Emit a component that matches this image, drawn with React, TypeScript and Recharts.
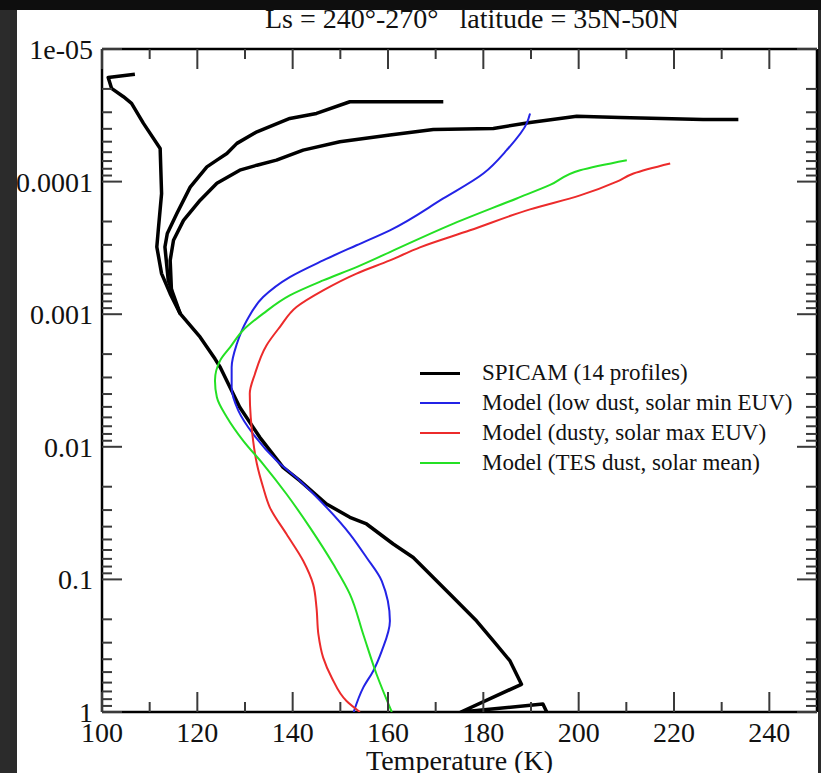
import React from 'react'
import { ScatterChart, Scatter, XAxis, YAxis } from 'recharts'

// profiles as [temperature (K), pressure]
const spicamMain = [
  [106.9, 1.55e-5], [101.3, 1.64e-5], [102.0, 1.98e-5], [104.5, 2.29e-5], [106.2, 2.57e-5],
  [108.7, 3.64e-5], [112.2, 5.62e-5], [112.5, 1.23e-4], [111.8, 2.33e-4], [111.5, 3.11e-4],
  [112.5, 4.94e-4], [114.3, 7.0e-4], [116.4, 9.9e-4], [120.6, 1.49e-3], [123.7, 2.17e-3],
  [124.8, 2.51e-3], [128.9, 5.04e-3], [133.1, 8.48e-3], [138.0, 1.43e-2], [141.5, 1.8e-2],
  [147.1, 2.7e-2], [152.0, 3.4e-2], [155.5, 3.82e-2], [161.1, 5.41e-2], [165.3, 6.84e-2],
  [169.5, 9.68e-2], [173.7, 0.137], [178.6, 0.206], [182.1, 0.291], [185.6, 0.412],
  [188.0, 0.618], [175.3, 1.0], [192.5, 0.87], [193.3, 1.0],
]
const spicamMid = [
  [116.4, 9.9e-4], [113.9, 5.56e-4], [113.2, 3.11e-4], [113.7, 2.46e-4], [115.7, 1.74e-4],
  [118.5, 1.1e-4], [122.0, 7.74e-5], [124.1, 6.89e-5], [126.2, 6.14e-5], [128.3, 5.15e-5],
  [132.5, 4.21e-5], [139.4, 3.34e-5], [145.0, 3.06e-5], [152.0, 2.5e-5], [171.6, 2.5e-5],
]
const spicamWarm = [
  [116.4, 9.9e-4], [114.6, 7.0e-4], [114.3, 3.93e-4], [115.0, 2.77e-4], [117.1, 1.96e-4],
  [120.6, 1.38e-4], [124.1, 1.03e-4], [128.9, 8.2e-5], [132.5, 7.52e-5], [136.6, 6.89e-5],
  [142.2, 5.79e-5], [149.9, 5.01e-5], [160.4, 4.46e-5], [169.5, 4.04e-5], [182.1, 3.97e-5],
  [189.8, 3.58e-5], [199.6, 3.21e-5], [208.7, 3.28e-5], [226.1, 3.4e-5], [233.5, 3.4e-5],
]
const modelLowDust = [
  [189.8, 3.06e-5], [189.1, 3.64e-5], [184.9, 5.79e-5], [180.0, 8.69e-5], [171.6, 1.34e-4],
  [160.4, 2.33e-4], [153.4, 3.02e-4], [146.4, 3.93e-4], [139.4, 5.25e-4], [133.8, 7.43e-4],
  [130.4, 1.11e-3], [128.3, 1.67e-3], [127.2, 2.51e-3], [127.2, 3.56e-3], [128.6, 5.33e-3],
  [131.7, 8.0e-3], [136.6, 1.27e-2], [141.5, 1.8e-2], [147.1, 2.86e-2], [152.0, 4.55e-2],
  [155.5, 6.84e-2], [158.7, 0.103], [160.4, 0.206], [158.7, 0.346], [156.9, 0.49],
  [154.8, 0.655], [152.8, 1.0],
]
const modelDusty = [
  [219.2, 7.3e-5], [211.5, 8.69e-5], [208.0, 1.0e-4], [200.3, 1.27e-4], [189.8, 1.62e-4],
  [177.2, 2.33e-4], [166.7, 3.13e-4], [160.4, 3.93e-4], [153.4, 4.94e-4], [146.4, 6.61e-4],
  [140.8, 8.83e-4], [137.3, 1.25e-3], [134.5, 1.72e-3], [132.1, 2.81e-3], [131.0, 3.98e-3],
  [131.2, 5.98e-3], [131.7, 8.97e-3], [132.5, 1.35e-2], [133.8, 2.02e-2], [135.2, 2.86e-2],
  [138.7, 4.55e-2], [142.2, 7.24e-2], [144.3, 0.109], [145.0, 0.163], [145.4, 0.26],
  [146.4, 0.389], [148.2, 0.551], [151.3, 0.826], [154.1, 1.0],
]
const modelTes = [
  [210.1, 6.89e-5], [200.3, 8.2e-5], [194.0, 1.06e-4], [187.0, 1.34e-4], [173.0, 2.13e-4],
  [160.4, 3.4e-4], [153.4, 4.41e-4], [146.4, 5.56e-4], [139.4, 7.21e-4], [133.8, 9.9e-4],
  [129.6, 1.32e-3], [126.9, 1.77e-3], [124.8, 2.23e-3], [123.7, 3.16e-3], [124.1, 4.23e-3],
  [126.2, 5.98e-3], [129.6, 8.97e-3], [133.8, 1.35e-2], [138.7, 2.27e-2], [143.6, 4.05e-2],
  [148.5, 7.66e-2], [152.0, 0.129], [154.8, 0.259], [157.6, 0.519], [160.8, 1.0],
]

const xTicks = [100, 110, 120, 130, 140, 150, 160, 170, 180, 190, 200, 210, 220, 230, 240]
const xLabelled = [100, 120, 140, 160, 180, 200, 220, 240]
const decades = [1e-5, 1e-4, 1e-3, 1e-2, 1e-1, 1]
const decadeLabels = ['1e-05', '0.0001', '0.001', '0.01', '0.1', '1']
const minorSteps = [2, 3, 4, 5, 6, 7, 8, 9]
const yTicks = decades.flatMap((d, i) => (i < decades.length - 1 ? [d, ...minorSteps.map(m => d * m)] : [d]))

const legendItems = [
  { name: 'SPICAM (14 profiles)', color: '#000', width: 3.5 },
  { name: 'Model (low dust, solar min EUV)', color: '#2323e6', width: 2 },
  { name: 'Model (dusty, solar max EUV)', color: '#ec2b2b', width: 2 },
  { name: 'Model (TES dust, solar mean)', color: '#24e024', width: 2 },
]

// observed profiles are jagged, model curves are smooth in pressure
const series = [
  { rows: spicamMain, curve: 'linear', ...legendItems[0] },
  { rows: spicamMid, curve: 'linear', ...legendItems[0] },
  { rows: spicamWarm, curve: 'linear', ...legendItems[0] },
  { rows: modelLowDust, curve: 'monotoneY', ...legendItems[1] },
  { rows: modelDusty, curve: 'monotoneY', ...legendItems[2] },
  { rows: modelTes, curve: 'monotoneY', ...legendItems[3] },
]

const toPoints = (rows: number[][]) => rows.map(([t, p]) => ({ t, p }))

const font = '"Liberation Serif", "Times New Roman", serif'
const tickColor = '#3a3a3a'

const decadeIndex = (v: number) => decades.findIndex(d => Math.abs(v / d - 1) < 1e-6)

const LeftTick = (props: any) => {
  const { x, y, payload } = props
  const i = decadeIndex(payload.value)
  const ax = x + 9
  return (
    <g>
      <line x1={ax} x2={ax + (i >= 0 ? 20 : 10)} y1={y} y2={y} stroke={tickColor} strokeWidth={2} />
      {i >= 0 && (
        <text x={x} y={y + 10} textAnchor="end" fontFamily={font} fontSize={28} fill="#111">
          {decadeLabels[i]}
        </text>
      )}
    </g>
  )
}

const RightTick = (props: any) => {
  const { x, y, payload } = props
  const major = decadeIndex(payload.value) >= 0
  return <line x1={x} x2={x - (major ? 20 : 11)} y1={y} y2={y} stroke={tickColor} strokeWidth={2} />
}

const BottomTick = (props: any) => {
  const { x, y, payload } = props
  const major = xLabelled.includes(payload.value)
  const ay = y - 30
  return (
    <g>
      <line x1={x} x2={x} y1={ay} y2={ay - (major ? 20 : 10)} stroke={tickColor} strokeWidth={2} />
      {major && (
        <text x={x} y={y} textAnchor="middle" fontFamily={font} fontSize={28} fill="#111">
          {payload.value}
        </text>
      )}
    </g>
  )
}

const TopTick = (props: any) => {
  const { x, y, payload } = props
  const major = xLabelled.includes(payload.value)
  return <line x1={x} x2={x} y1={y} y2={y + (major ? 20 : 10)} stroke={tickColor} strokeWidth={2} />
}

const NoDot = () => <g />

const axisLine = { stroke: '#000', strokeWidth: 2.5 }

export default function App() {
  return (
    <div style={{ position: 'absolute', left: 0, top: 0, width: 821, height: 773, background: '#2b2b2b', overflow: 'hidden' }}>
      <div style={{ position: 'absolute', left: 0, top: 0, width: 821, height: 10, background: '#0e0e0e' }} />
      <div style={{ position: 'absolute', left: 17, top: 10, width: 801, height: 763, background: '#fff' }} />
      <div style={{ position: 'absolute', left: 0, top: 0 }}>
        <ScatterChart width={821} height={773} margin={{ top: 39, right: 2, bottom: 21, left: 42 }}>
          <XAxis xAxisId="b" type="number" dataKey="t" domain={[100, 250]} ticks={xTicks} interval={0}
            tickSize={0} tickMargin={30} tick={BottomTick} axisLine={axisLine} height={40} allowDataOverflow />
          <XAxis xAxisId="t" orientation="top" type="number" dataKey="t" domain={[100, 250]} ticks={xTicks}
            interval={0} tickSize={0} tickMargin={0} tick={TopTick} axisLine={axisLine} height={10} allowDataOverflow />
          <YAxis yAxisId="l" type="number" dataKey="p" scale="log" domain={[1e-5, 1]} reversed ticks={yTicks}
            interval={0} tickSize={0} tickMargin={9} tick={LeftTick} axisLine={axisLine} width={60} allowDataOverflow />
          <YAxis yAxisId="r" orientation="right" type="number" dataKey="p" scale="log" domain={[1e-5, 1]} reversed
            ticks={yTicks} interval={0} tickSize={0} tickMargin={0} tick={RightTick} axisLine={axisLine} width={2} allowDataOverflow />
          {series.map((s, i) => (
            <Scatter key={i} xAxisId="b" yAxisId="l" data={toPoints(s.rows)} shape={NoDot}
              line={{ stroke: s.color, strokeWidth: s.width, strokeLinejoin: 'round' }} lineJointType={s.curve as any}
              isAnimationActive={false} />
          ))}
          <Scatter xAxisId="t" yAxisId="r" data={toPoints(modelTes)} shape={NoDot} isAnimationActive={false} />
        </ScatterChart>
      </div>
      <div style={{ position: 'absolute', left: 0, width: 944, top: 5, textAlign: 'center', fontFamily: font,
        fontSize: 28, lineHeight: '28px', whiteSpace: 'pre', color: '#111' }}>
        {'Ls = 240°-270°   latitude = 35N-50N'}
      </div>
      <div style={{ position: 'absolute', left: 102, width: 715, top: 747, textAlign: 'center', fontFamily: font,
        fontSize: 28, lineHeight: '28px', color: '#111' }}>
        Temperature (K)
      </div>
      <div style={{ position: 'absolute', left: 420, top: 358, fontFamily: font, fontSize: 23, color: '#111' }}>
        {legendItems.map(item => (
          <div key={item.name} style={{ height: 30, display: 'flex', alignItems: 'center' }}>
            <span style={{ display: 'inline-block', width: 40, borderTop: `${item.width}px solid ${item.color}`, marginRight: 22 }} />
            <span style={{ whiteSpace: 'nowrap' }}>{item.name}</span>
          </div>
        ))}
      </div>
    </div>
  )
}
